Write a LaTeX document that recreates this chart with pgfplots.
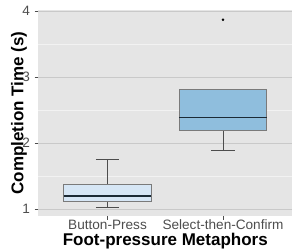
\documentclass[border=0pt]{standalone}
\usepackage{fontspec}
\setmainfont{Liberation Sans}
\usepackage{pgfplots}
\pgfplotsset{compat=1.18}
\usepgfplotslibrary{statistics}
\definecolor{panelbg}{HTML}{E5E5E5}
\definecolor{majgrid}{HTML}{C9C9C9}
\definecolor{mingrid}{HTML}{F2F2F2}
\definecolor{ticktext}{HTML}{4D4D4D}
\definecolor{boxA}{HTML}{D6E6F5}
\definecolor{boxB}{HTML}{8FBEDD}
\definecolor{boxline}{HTML}{7A7A7A}
\definecolor{medline}{HTML}{1B2A35}
\begin{document}
\begin{tikzpicture}
\begin{axis}[
 at={(0pt,0pt)}, anchor=south west,
 scale only axis, width=190.5pt, height=154.5pt,
 xmin=0.4, xmax=2.6, ymin=0.898, ymax=4.015,
 axis background/.style={fill=panelbg},
 axis line style={draw=none},
 xtick={1,2}, xticklabels={Button-Press, Select-then-Confirm},
 ytick={1,2,3,4},
 minor ytick={1.5,2.5,3.5},
 xtick pos=bottom, ytick pos=left,
 ymajorgrids, yminorgrids,
 major grid style={draw=majgrid, line width=0.6pt},
 minor grid style={draw=mingrid, line width=0.4pt},
 tick align=outside, major tick length=2.75pt, minor tick length=0pt,
 tick style={draw=ticktext, line width=0.5pt},
 ticklabel style={font=\fontsize{10.2}{11}\selectfont, text=ticktext},
 xticklabel style={yshift=3.2pt},
 /pgf/number format/assume math mode=true,
 xlabel={Foot-pressure Metaphors},
 ylabel={Completion Time (s)},
 every axis x label/.style={at={(axis description cs:0.5,-0.12)}, anchor=center, font=\fontsize{12.75}{14}\selectfont\bfseries},
 every axis y label/.style={at={(axis description cs:-0.076,0.5)}, rotate=90, anchor=center, font=\fontsize{12.75}{14}\selectfont\bfseries},
 boxplot/draw direction=y,
 clip=false,
]
\addplot[boxplot prepared={draw position=1, lower whisker=1.03, lower quartile=1.115, median=1.20, upper quartile=1.383, upper whisker=1.758, box extend=0.76, whisker extend=0.2,
  every box/.style={draw=boxline, fill=boxA, line width=0.6pt},
  every median/.style={draw=medline, line width=1.1pt},
  every whisker/.style={draw=ticktext, line width=0.6pt}}] coordinates {};
\addplot[boxplot prepared={draw position=2, lower whisker=1.883, lower quartile=2.20, median=2.388, upper quartile=2.818, upper whisker=2.818, box extend=0.76, whisker extend=0.2,
  every box/.style={draw=boxline, fill=boxB, line width=0.6pt},
  every median/.style={draw=medline, line width=1.1pt},
  every whisker/.style={draw=ticktext, line width=0.6pt}}] coordinates {};
\addplot[only marks, mark=*, mark size=0.75pt, draw=black, fill=black] coordinates {(2,3.868)};
\end{axis}
\pgfresetboundingbox
\path (-28.7pt,-24.75pt) rectangle (191.8pt,162pt);
\end{tikzpicture}
\end{document}
